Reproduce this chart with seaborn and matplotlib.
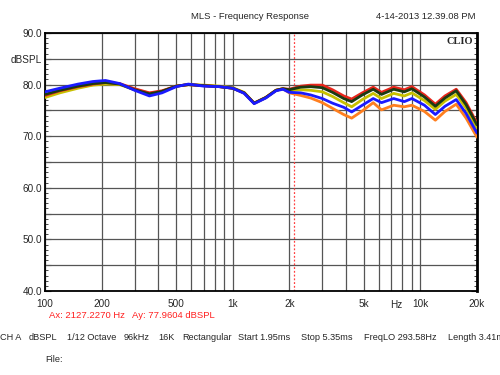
"""
MLS frequency response chart (CLIO style), redrawn with seaborn.
"""

import numpy as np
import pandas as pd
import seaborn as sns
import matplotlib

matplotlib.use("Agg")
import matplotlib.pyplot as plt
import matplotlib.transforms as mtransforms

# frequencies (Hz) the traces were read at
freq = [100, 120, 150, 180, 210, 250, 300, 360, 420, 500, 580, 700, 850,
        1000, 1150, 1300, 1500, 1700, 1850, 2000, 2300, 2600, 3000, 3400,
        3900, 4300, 4900, 5600, 6200, 7200, 8200, 9000, 10500, 12000,
        13500, 15500, 17500, 20000]

# dBSPL values per trace
red = [77.9, 78.8, 79.6, 80.1, 80.4, 80.2, 79.2, 78.4, 78.8, 79.7, 80.0,
       79.8, 79.6, 79.3, 78.4, 76.4, 77.5, 78.9, 79.2, 79.1, 79.7, 79.9,
       79.9, 79.0, 77.8, 77.2, 78.4, 79.5, 78.5, 79.5, 79.0, 79.6, 78.0,
       76.2, 77.8, 79.1, 76.5, 72.5]
green = [78.1, 78.9, 79.7, 80.2, 80.4, 80.1, 79.0, 78.2, 78.7, 79.7, 80.0,
         79.8, 79.6, 79.3, 78.4, 76.4, 77.5, 78.9, 79.2, 79.0, 79.5, 79.6,
         79.4, 78.5, 77.3, 76.7, 78.0, 79.1, 78.1, 79.1, 78.6, 79.2, 77.6,
         75.8, 77.4, 78.8, 76.1, 72.2]
yellow = [77.5, 78.4, 79.3, 79.9, 80.1, 80.0, 79.0, 78.2, 78.6, 79.7, 80.0,
          79.9, 79.7, 79.4, 78.5, 76.4, 77.5, 78.9, 79.2, 78.8, 79.0, 78.9,
          78.6, 77.7, 76.5, 75.7, 77.1, 78.3, 77.3, 78.3, 77.8, 78.4, 76.9,
          75.2, 76.8, 78.1, 75.4, 71.5]
blue = [78.6, 79.3, 80.1, 80.6, 80.8, 80.2, 78.9, 77.8, 78.4, 79.6, 80.1,
        79.7, 79.6, 79.3, 78.3, 76.3, 77.4, 78.8, 79.1, 78.5, 78.4, 78.0,
        77.3, 76.4, 75.6, 74.7, 76.0, 77.3, 76.5, 77.3, 76.7, 77.3, 76.0,
        74.2, 75.8, 77.1, 74.4, 70.6]
orange = [77.7, 78.6, 79.5, 80.0, 80.3, 80.1, 79.1, 78.3, 78.7, 79.7, 80.0,
          79.8, 79.6, 79.3, 78.4, 76.4, 77.5, 78.9, 79.2, 78.4, 77.9, 77.4,
          76.5, 75.4, 74.2, 73.5, 74.9, 76.5, 75.1, 76.0, 75.7, 76.0, 74.8,
          73.1, 74.8, 76.2, 73.5, 69.8]

trace_names = ["orange", "yellow", "red", "green", "blue"]
trace_colors = ["#ff7f1f", "#c8c000", "#e8261c", "#1c3a12", "#1a1aff"]

grid_freqs = [100, 200, 300, 400, 500, 600, 700, 800, 900, 1000, 2000, 3000,
              4000, 5000, 6000, 7000, 8000, 9000, 10000, 20000]
x_label_freqs = [100, 200, 500, 1000, 2000, 5000, 10000, 20000]
x_labels = ["100", "200", "500", "1k", "2k", "5k", "10k", "20k"]
y_ticks = [40, 45, 50, 55, 60, 65, 70, 75, 80, 85, 90]
y_labels = ["40.0", "", "50.0", "", "60.0", "", "70.0", "", "80.0", "dBSPL", "90.0"]

cursor_x = 2127.2270
cursor_ax = "Ax: 2127.2270 Hz"
cursor_ay = "Ay: 77.9604 dBSPL"
info_items = ["CH A", "dBSPL", "1/12 Octave", "96kHz", "16K", "Rectangular",
              "Start 1.95ms", "Stop 5.35ms", "FreqLO 293.58Hz", "Length 3.41ms"]
# left edge of each info item, in pixels
info_px = [0, 29, 67, 124, 158, 182, 238, 301, 364, 448]


def main():
    sns.set_style("white")
    plt.rcParams["font.family"] = ["Liberation Sans", "DejaVu Sans"]

    series = {"orange": orange, "yellow": yellow, "red": red,
              "green": green, "blue": blue}
    rows = []
    for name in trace_names:
        for f, v in zip(freq, series[name]):
            rows.append({"freq": f, "level": v, "trace": name})
    df = pd.DataFrame(rows)

    fig = plt.figure(figsize=(5, 3.75), dpi=100)
    ax = fig.add_axes([0.09, 0.224, 0.864, 0.688])

    # grid first so traces sit on top
    for f in grid_freqs:
        ax.axvline(f, color="#555555", lw=0.9, zorder=1)
    for v in y_ticks:
        ax.axhline(v, color="#555555", lw=0.9, zorder=1)
    ax.axvline(cursor_x, color="#ff4040", lw=0.9, ls=(0, (1.5, 1.5)), zorder=1.5)

    sns.lineplot(data=df, x="freq", y="level", hue="trace",
                 hue_order=trace_names, palette=trace_colors,
                 lw=2.0, legend=False, ax=ax, zorder=3,
                 solid_joinstyle="round", solid_capstyle="round")

    ax.set_xscale("log")
    ax.set_xlim(100, 20000)
    ax.set_ylim(40, 90)
    ax.set_xlabel("")
    ax.set_ylabel("")

    ax.set_xticks(x_label_freqs)
    ax.set_xticklabels(x_labels, fontsize=7.2)
    ax.xaxis.set_minor_locator(matplotlib.ticker.NullLocator())
    ax.tick_params(axis="x", length=0, pad=6)

    ax.set_yticks(y_ticks)
    ax.set_yticklabels(y_labels, fontsize=7.2)
    ax.yaxis.set_minor_locator(matplotlib.ticker.MultipleLocator(1))
    ax.tick_params(axis="y", which="major", direction="in", length=4,
                   width=0.8, left=True, right=True, pad=2)
    ax.tick_params(axis="y", which="minor", direction="in", length=2.5,
                   width=0.6, left=True, right=True)

    for side in ["left", "bottom", "top"]:
        ax.spines[side].set_color("black")
        ax.spines[side].set_linewidth(1.3)
    ax.spines["right"].set_color("black")
    ax.spines["right"].set_linewidth(2.0)

    trans = mtransforms.blended_transform_factory(ax.transData, ax.transAxes)
    ax.text(7400, -0.035, "Hz", transform=trans, ha="center", va="top",
            fontsize=7.2)
    ax.text(0.99, 0.985, "CLIO", transform=ax.transAxes, ha="right", va="top",
            fontsize=7.5, fontweight="bold", family="Liberation Serif")

    fig.text(0.5, 0.955, "MLS - Frequency Response", ha="center", va="center",
             fontsize=6.8)
    fig.text(0.852, 0.955, "4-14-2013 12.39.08 PM", ha="center", va="center",
             fontsize=6.8)
    fig.text(49 / 500, 0.158, cursor_ax, ha="left", va="center",
             fontsize=6.8, color="#ff2020")
    fig.text(132 / 500, 0.158, cursor_ay, ha="left", va="center",
             fontsize=6.8, color="#ff2020")
    for item, px in zip(info_items, info_px):
        fig.text(px / 500, 1 - 338 / 375, item, ha="left", va="center",
                 fontsize=6.6)
    fig.text(45 / 500, 1 - 359 / 375, "File:", ha="left", va="center",
             fontsize=6.6)

    fig.savefig("out.png", dpi=100, facecolor="white")


if __name__ == "__main__":
    main()
